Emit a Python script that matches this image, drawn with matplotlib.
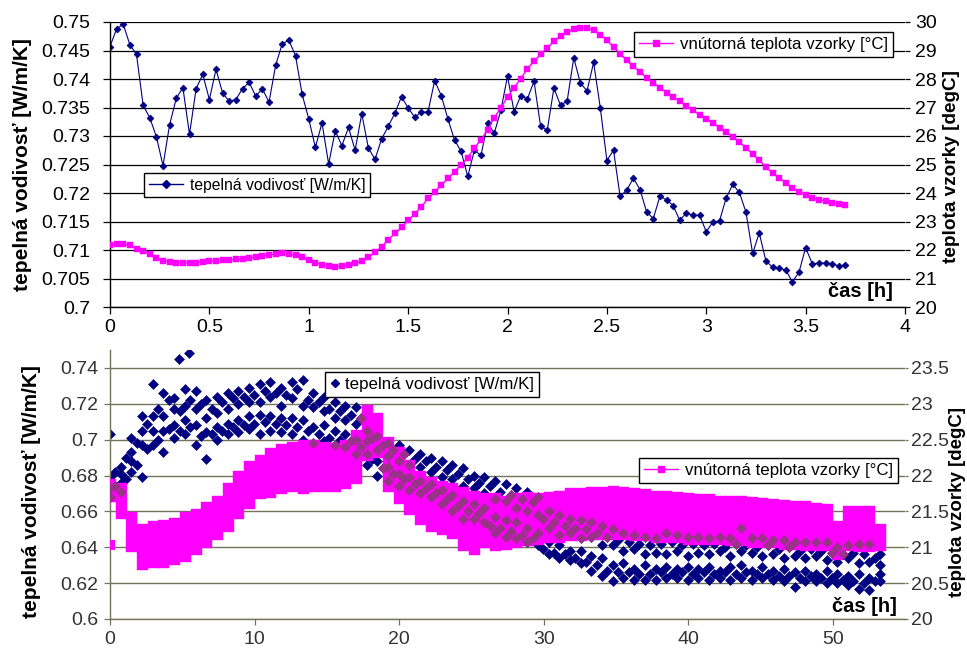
import matplotlib
matplotlib.use('Agg')
import matplotlib.pyplot as plt
import numpy as np
from matplotlib.lines import Line2D

plt.rcParams['font.family'] = ['Liberation Sans', 'DejaVu Sans']

# ---------------- data: top chart (time in minutes) ----------------
t_top_min = [0, 2, 4, 6, 8, 10, 12, 14, 16, 18, 20, 22, 24, 26, 28, 30, 32, 34, 36, 38,
             40, 42, 44, 46, 48, 50, 52, 54, 56, 58, 60, 62, 64, 66, 68, 70, 72, 74, 76, 78,
             80, 82, 84, 86, 88, 90, 92, 94, 96, 98, 100, 102, 104, 106, 108, 110, 112, 114, 116, 118,
             120, 122, 124, 126, 128, 130, 132, 134, 136, 138, 140, 142, 144, 146, 148, 150, 152, 154, 156, 158,
             160, 162, 164, 166, 168, 170, 172, 174, 176, 178, 180, 182, 184, 186, 188, 190, 192, 194, 196, 198,
             200, 202, 204, 206, 208, 210, 212, 214, 216, 218, 220, 222]

k_top = [0.7457, 0.7488, 0.7496, 0.7460, 0.7443, 0.7354, 0.7332, 0.7299, 0.7248, 0.7320,
         0.7366, 0.7385, 0.7303, 0.7383, 0.7408, 0.7364, 0.7417, 0.7375, 0.7361, 0.7364,
         0.7383, 0.7394, 0.7370, 0.7383, 0.7359, 0.7424, 0.7462, 0.7468, 0.7441, 0.7373,
         0.7330, 0.7280, 0.7323, 0.7251, 0.7309, 0.7283, 0.7315, 0.7275, 0.7339, 0.7279,
         0.7259, 0.7295, 0.7317, 0.7340, 0.7369, 0.7349, 0.7333, 0.7342, 0.7342, 0.7397,
         0.7371, 0.7330, 0.7293, 0.7273, 0.7229, 0.7275, 0.7266, 0.7323, 0.7305, 0.7345,
         0.7405, 0.7342, 0.7371, 0.7365, 0.7396, 0.7317, 0.7310, 0.7384, 0.7354, 0.7361,
         0.7437, 0.7393, 0.7379, 0.7429, 0.7350, 0.7257, 0.7275, 0.7194, 0.7205, 0.7226,
         0.7206, 0.7167, 0.7155, 0.7194, 0.7188, 0.7178, 0.7152, 0.7165, 0.7161, 0.7161,
         0.7132, 0.7149, 0.7151, 0.7191, 0.7215, 0.7201, 0.7166, 0.7094, 0.7130, 0.7081,
         0.7070, 0.7068, 0.7065, 0.7044, 0.7061, 0.7104, 0.7076, 0.7077, 0.7077, 0.7076,
         0.7072, 0.7073]

temp_top = [22.17, 22.21, 22.21, 22.16, 22.05, 21.97, 21.85, 21.73, 21.63, 21.58,
            21.55, 21.55, 21.55, 21.56, 21.58, 21.61, 21.62, 21.64, 21.65, 21.67,
            21.69, 21.71, 21.76, 21.80, 21.83, 21.85, 21.88, 21.85, 21.81, 21.74,
            21.64, 21.56, 21.49, 21.44, 21.42, 21.43, 21.47, 21.53, 21.61, 21.74,
            21.92, 22.12, 22.36, 22.58, 22.79, 23.04, 23.27, 23.52, 23.81, 24.04,
            24.28, 24.51, 24.75, 24.99, 25.24, 25.58, 25.87, 26.22, 26.64, 26.99,
            27.37, 27.70, 28.01, 28.36, 28.62, 28.87, 29.09, 29.32, 29.51, 29.65,
            29.74, 29.79, 29.79, 29.71, 29.56, 29.36, 29.12, 28.89, 28.65, 28.44,
            28.25, 28.05, 27.86, 27.70, 27.52, 27.37, 27.22, 27.05, 26.90, 26.75,
            26.61, 26.46, 26.29, 26.14, 25.96, 25.79, 25.59, 25.36, 25.15, 24.91,
            24.70, 24.53, 24.35, 24.19, 24.05, 23.93, 23.84, 23.77, 23.71, 23.66,
            23.61, 23.58]

# ---------------- data: bottom chart (time in hours) ----------------
t_cols = [0.0, 0.74, 1.48, 2.22, 2.96, 3.7, 4.44, 5.18, 5.92, 6.66, 7.4, 8.14, 8.88, 9.62,
          10.36, 11.1, 11.84, 12.58, 13.32, 14.06, 14.8, 15.54, 16.28, 17.02, 17.76, 18.5,
          19.24, 19.98, 20.72, 21.46, 22.2, 22.94, 23.68, 24.42, 25.16, 25.9, 26.64, 27.38,
          28.12, 28.86, 29.6, 30.34, 31.08, 31.82, 32.56, 33.3, 34.04, 34.78, 35.52, 36.26,
          37.0, 37.74, 38.48, 39.22, 39.96, 40.7, 41.44, 42.18, 42.92, 43.66, 44.4, 45.14,
          45.88, 46.62, 47.36, 48.1, 48.84, 49.58, 50.32, 51.06, 51.8, 52.54, 53.28]

t_half = [0.37, 1.11, 1.85, 2.59, 3.33, 4.07, 4.81, 5.55, 6.29, 7.03, 7.77, 8.51, 9.25, 9.99,
          10.73, 11.47, 12.21, 12.95, 13.69, 14.43, 15.17, 15.91, 16.65, 17.39, 18.13, 18.87,
          19.61, 20.35, 21.09, 21.83, 22.57, 23.31, 24.05, 24.79, 25.53, 26.27, 27.01, 27.75,
          28.49, 29.23, 29.97, 30.71, 31.45, 32.19, 32.93, 33.67, 34.41, 35.15, 35.89, 36.63,
          37.37, 38.11, 38.85, 39.59, 40.33, 41.07, 41.81, 42.55, 43.29, 44.03, 44.77, 45.51,
          46.25, 46.99, 47.73, 48.47, 49.21, 49.95, 50.69, 51.43, 52.17, 52.91]

pink_hi = [21.88, 21.82, 21.42, 21.26, 21.30, 21.31, 21.34, 21.42, 21.47, 21.56, 21.64, 21.82,
           22.00, 22.13, 22.22, 22.32, 22.37, 22.40, 22.42, 22.43, 22.40, 22.38, 22.42, 22.56,
           22.92, 22.80, 22.47, 22.33, 22.14, 22.00, 21.91, 21.86, 21.82, 21.77, 21.72, 21.68,
           21.68, 21.65, 21.68, 21.70, 21.68, 21.70, 21.72, 21.75, 21.75, 21.77, 21.77, 21.78,
           21.77, 21.75, 21.74, 21.72, 21.71, 21.70, 21.69, 21.67, 21.67, 21.65, 21.65, 21.64,
           21.63, 21.62, 21.60, 21.59, 21.58, 21.57, 21.55, 21.53, 21.30, 21.51, 21.51, 21.51,
           21.26]
pink_lo = [21.72, 21.48, 21.02, 20.76, 20.80, 20.80, 20.83, 20.88, 20.97, 21.07, 21.18, 21.30,
           21.48, 21.62, 21.75, 21.77, 21.83, 21.86, 21.82, 21.85, 21.86, 21.85, 21.90, 21.96,
           22.28, 22.33, 21.86, 21.68, 21.54, 21.40, 21.30, 21.26, 21.20, 21.03, 20.98, 21.07,
           21.03, 21.04, 21.07, 21.10, 21.12, 21.14, 21.14, 21.17, 21.17, 21.18, 21.19, 21.19,
           21.19, 21.17, 21.17, 21.14, 21.14, 21.14, 21.12, 21.12, 21.12, 21.12, 21.10, 21.10,
           21.08, 21.07, 21.07, 21.05, 21.05, 21.03, 21.03, 21.03, 20.90, 21.03, 21.02, 21.02,
           21.03]
pink_extra_t = [0.0]
pink_extra_v = [21.03]

k1 = [0.703, 0.685, 0.701, 0.713, 0.731, 0.726, 0.723, 0.728, 0.727, 0.722, 0.724, 0.726,
      0.727, 0.729, 0.731, 0.732, 0.729, 0.732, 0.733, 0.726, 0.724, 0.721, 0.719, 0.718,
      0.705, 0.702, 0.698, 0.697, 0.694, 0.692, 0.690, 0.688, 0.686, 0.684, 0.680, 0.679,
      0.677, 0.675, 0.673, 0.671, 0.668, 0.660, 0.658, 0.656, 0.655, 0.654, 0.652, 0.650,
      0.648, 0.647, 0.646, 0.645, 0.648, 0.647, 0.646, 0.646, 0.645, 0.646, 0.645, 0.651,
      0.645, 0.645, 0.644, 0.644, 0.643, 0.643, 0.643, 0.643, 0.640, 0.641, 0.642, 0.642,
      0.636]
k2 = [0.679, 0.681, 0.693, 0.705, 0.713, 0.713, 0.717, 0.719, 0.717, 0.712, 0.715, 0.717,
      0.720, 0.721, 0.721, 0.724, 0.719, 0.723, 0.719, 0.718, 0.716, 0.712, 0.711, 0.709,
      0.699, 0.694, 0.691, 0.688, 0.686, 0.685, 0.682, 0.679, 0.678, 0.674, 0.673, 0.670,
      0.667, 0.666, 0.662, 0.660, 0.658, 0.651, 0.647, 0.648, 0.645, 0.646, 0.641, 0.641,
      0.638, 0.639, 0.636, 0.637, 0.636, 0.638, 0.635, 0.637, 0.636, 0.638, 0.635, 0.638,
      0.637, 0.635, 0.636, 0.634, 0.635, 0.634, 0.635, 0.633, 0.632, 0.634, 0.631, 0.632,
      0.630]
k3 = [0.673, 0.676, 0.688, 0.697, 0.705, 0.705, 0.708, 0.711, 0.708, 0.704, 0.707, 0.709,
      0.711, 0.713, 0.714, 0.713, 0.712, 0.712, 0.711, 0.707, 0.708, 0.705, 0.703, 0.700,
      0.692, 0.688, 0.685, 0.681, 0.679, 0.677, 0.675, 0.672, 0.669, 0.666, 0.664, 0.662,
      0.657, 0.655, 0.654, 0.651, 0.648, 0.643, 0.641, 0.638, 0.638, 0.635, 0.634, 0.630,
      0.631, 0.628, 0.630, 0.628, 0.629, 0.628, 0.629, 0.628, 0.629, 0.627, 0.629, 0.630,
      0.627, 0.629, 0.627, 0.628, 0.626, 0.627, 0.625, 0.627, 0.625, 0.624, 0.625, 0.623,
      0.625]
k4 = [0.668, 0.671, 0.682, 0.679, 0.697, 0.693, 0.701, 0.703, 0.697, 0.689, 0.700, 0.703,
      0.704, 0.706, 0.703, 0.705, 0.704, 0.703, 0.700, 0.698, 0.699, 0.697, 0.696, 0.692,
      0.686, 0.680, 0.677, 0.674, 0.672, 0.670, 0.668, 0.664, 0.660, 0.656, 0.656, 0.654,
      0.648, 0.646, 0.645, 0.643, 0.641, 0.636, 0.634, 0.633, 0.631, 0.627, 0.624, 0.621,
      0.623, 0.622, 0.622, 0.622, 0.623, 0.623, 0.622, 0.623, 0.622, 0.623, 0.622, 0.623,
      0.622, 0.623, 0.622, 0.621, 0.618, 0.621, 0.621, 0.620, 0.620, 0.619, 0.617, 0.616,
      0.621]
k5 = [0.682, 0.690, 0.698, 0.709, 0.717, 0.722, 0.716, 0.722, 0.720, 0.717, 0.721, 0.723,
      0.724, 0.725, 0.727, 0.726, 0.725, 0.728, 0.722, 0.721, 0.717, 0.716, 0.714, 0.712,
      0.701, 0.697, 0.694, 0.692, 0.689, 0.688, 0.685, 0.683, 0.681, 0.678, 0.676, 0.674,
      0.671, 0.669, 0.667, 0.665, 0.656, 0.654, 0.652, 0.651, 0.650, 0.648, 0.646, 0.644,
      0.643, 0.642, 0.641, 0.642, 0.643, 0.641, 0.642, 0.641, 0.642, 0.640, 0.642, 0.641,
      0.640, 0.641, 0.639, 0.640, 0.638, 0.639, 0.638, 0.637, 0.636, 0.637, 0.636, 0.634]
k6 = [0.674, 0.678, 0.686, 0.695, 0.700, 0.706, 0.705, 0.707, 0.702, 0.703, 0.705, 0.707,
      0.708, 0.709, 0.710, 0.709, 0.708, 0.707, 0.705, 0.703, 0.701, 0.700, 0.699, 0.696,
      0.689, 0.684, 0.681, 0.678, 0.675, 0.673, 0.670, 0.667, 0.663, 0.660, 0.659, 0.652,
      0.651, 0.649, 0.647, 0.645, 0.639, 0.637, 0.636, 0.634, 0.632, 0.630, 0.627, 0.626,
      0.626, 0.625, 0.625, 0.626, 0.625, 0.626, 0.625, 0.626, 0.625, 0.626, 0.625, 0.626,
      0.625, 0.625, 0.624, 0.624, 0.623, 0.624, 0.623, 0.623, 0.622, 0.621, 0.620, 0.621]
k_out_t = [4.77, 5.48]
k_out = [0.745, 0.7486]

# ---------------- styling ----------------
NAVY = '#000080'
MAG = '#FF00FF'
PURP = '#993388'
OLIVE = '#73735A'
W, H = 967, 649
fig = plt.figure(figsize=(W / 100, H / 100), dpi=100)


def fx(px):
    return px / W


def fy(py):
    return 1 - py / H


def fmt(v):
    return f'{round(v, 4):g}'


# ---------------- top chart ----------------
ax1 = fig.add_axes([fx(110), fy(307), fx(905) - fx(110), fy(22) - fy(307)])
ax1b = ax1.twinx()
t_top = np.array(t_top_min) / 60.0

ax1.plot(t_top, k_top, color=NAVY, lw=0.8, marker='D', ms=3.4, mec=NAVY, mfc=NAVY, mew=0.6)
ax1b.plot(t_top, temp_top, color=MAG, lw=1.0, marker='s', ms=5.0, mec=MAG, mfc=MAG, mew=0.3)

ax1.set_xlim(0, 4)
ax1.set_ylim(0.7, 0.75)
ax1b.set_ylim(20, 30)
xt = np.arange(0, 4.01, 0.5)
ax1.set_xticks(xt)
ax1.set_xticklabels([fmt(v) for v in xt])
yt = np.arange(0.7, 0.7501, 0.005)
ax1.set_yticks(yt)
ax1.set_yticklabels([fmt(v) for v in yt])
yt2 = np.arange(20, 30.01, 1)
ax1b.set_yticks(yt2)
ax1b.set_yticklabels([fmt(v) for v in yt2])

ax1.set_axisbelow(True)
ax1.yaxis.grid(True, color='black', lw=0.9)
for sp in ['top', 'right']:
    ax1.spines[sp].set_visible(False)
for sp in ['top', 'right', 'left', 'bottom']:
    ax1b.spines[sp].set_visible(False)
for sp in ['left', 'bottom']:
    ax1.spines[sp].set_color('black')
    ax1.spines[sp].set_linewidth(1.0)
ax1.tick_params(axis='y', direction='out', length=5, width=0.9, pad=9, labelsize=14, colors='black')
ax1.tick_params(axis='x', direction='out', length=5, width=0.9, pad=3.5, labelsize=14, colors='black')
ax1b.tick_params(axis='y', direction='out', length=3.6, width=0.9, pad=3.5, labelsize=14, colors='black')

# ---------------- bottom chart ----------------
ax2 = fig.add_axes([fx(110), fy(619), fx(905) - fx(110), fy(350) - fy(619)])
ax2b = ax2.twinx()
ax2.set_xlim(0, 55)
ax2.set_ylim(0.6, 0.75)
ax2b.set_ylim(20, 23.75)

lo_c = np.array(pink_lo)
hi_c = np.array(pink_hi)
lo_h = np.minimum(lo_c[:-1], lo_c[1:])
hi_h = np.maximum(hi_c[:-1], hi_c[1:])

t_all = np.concatenate([t_cols] * 4 + [t_half] * 2)
k_all = np.concatenate([k1, k2, k3, k4, k5, k6])
lo_all = np.concatenate([lo_c] * 4 + [lo_h] * 2)
hi_all = np.concatenate([hi_c] * 4 + [hi_h] * 2)

DMS = 5.2
ax2.plot(t_all, k_all, ls='none', marker='D', ms=DMS, mfc=NAVY, mec=NAVY, mew=0.4)
ax2.plot(k_out_t, k_out, ls='none', marker='D', ms=DMS, mfc=NAVY, mec=NAVY, mew=0.4)

ax2b.vlines(t_cols, pink_lo, pink_hi, colors=MAG, lw=8.2, capstyle='projecting')
ax2b.plot(pink_extra_t, pink_extra_v, ls='none', marker='s', ms=7.5, mfc=MAG, mec=MAG, mew=0)

# blue diamonds lying over the pink band look purple
disp = ax2.transData.transform(np.column_stack([t_all, k_all]))
tT = ax2b.transData.inverted().transform(disp)
inside = (tT[:, 1] >= lo_all - 0.05) & (tT[:, 1] <= hi_all + 0.05)
ax2b.plot(tT[inside, 0], tT[inside, 1], ls='none', marker='D', ms=DMS, mfc=PURP, mec=PURP, mew=0.4)

xt = np.arange(0, 50.1, 10)
ax2.set_xticks(xt)
ax2.set_xticklabels([fmt(v) for v in xt])
yt = np.arange(0.6, 0.7401, 0.02)
ax2.set_yticks(yt)
ax2.set_yticklabels([fmt(v) for v in yt])
yt2 = np.arange(20, 23.51, 0.5)
ax2b.set_yticks(yt2)
ax2b.set_yticklabels([fmt(v) for v in yt2])

ax2.set_axisbelow(True)
ax2.yaxis.grid(True, color=OLIVE, lw=1.0)
for sp in ['top', 'right']:
    ax2.spines[sp].set_visible(False)
for sp in ['top', 'right', 'left', 'bottom']:
    ax2b.spines[sp].set_visible(False)
for sp in ['left', 'bottom']:
    ax2.spines[sp].set_color(OLIVE)
    ax2.spines[sp].set_linewidth(1.0)
ax2.tick_params(axis='y', direction='out', length=4.5, width=0.9, pad=4, labelsize=14,
                color=OLIVE, labelcolor='#333333')
ax2.tick_params(axis='x', direction='out', length=4.5, width=0.9, pad=4, labelsize=14,
                color=OLIVE, labelcolor='#333333')
ax2b.tick_params(axis='y', direction='out', length=2.5, width=0.9, pad=2, labelsize=14,
                 color=OLIVE, labelcolor='#333333')

# ---------------- texts ----------------
fig.text(fx(22.5), fy(164.5), 'tepelná vodivosť [W/m/K]', rotation=90, ha='center', va='center',
         fontsize=15, fontweight='bold')
fig.text(fx(952), fy(166.7), 'teplota vzorky [degC]', rotation=90, ha='center', va='center',
         fontsize=13.7, fontweight='bold')
fig.text(fx(32), fy(491.5), 'tepelná vodivosť [W/m/K]', rotation=90, ha='center', va='center',
         fontsize=15, fontweight='bold')
fig.text(fx(958), fy(502), 'teplota vzorky [degC]', rotation=90, ha='center', va='center',
         fontsize=13.5, fontweight='bold')
fig.text(fx(893), fy(292), 'čas [h]', ha='right', va='center', fontsize=14.5, fontweight='bold')
fig.text(fx(897), fy(606), 'čas [h]', ha='right', va='center', fontsize=14.5, fontweight='bold')

# ---------------- legends ----------------
def add_legend(handle, label, x, y, size, hl, htp):
    leg = fig.legend([handle], [label], loc='upper left', bbox_to_anchor=(fx(x), fy(y)),
                     bbox_transform=fig.transFigure, fontsize=size, frameon=True, fancybox=False,
                     edgecolor='black', framealpha=1.0, borderpad=0.3, borderaxespad=0,
                     handlelength=hl, handletextpad=htp)
    leg.get_frame().set_linewidth(1.0)
    return leg


h_blue_line = Line2D([], [], color=NAVY, lw=1.0, marker='D', ms=4, mfc=NAVY, mec=NAVY)
h_pink_line = Line2D([], [], color=MAG, lw=1.0, marker='s', ms=5, mfc=MAG, mec=MAG)
h_blue_pt = Line2D([], [], color=NAVY, ls='none', marker='D', ms=4, mfc=NAVY, mec=NAVY)

add_legend(h_blue_line, 'tepelná vodivosť [W/m/K]', 144, 173, 11.3, 2.2, 0.4)
add_legend(h_pink_line, 'vnútorná teplota vzorky [°C]', 634, 32, 12.2, 2.0, 0.4)
add_legend(h_blue_pt, 'tepelná vodivosť [W/m/K]', 325, 372, 12.2, 0.6, 0.3)
add_legend(h_pink_line, 'vnútorná teplota vzorky [°C]', 639, 458, 12.2, 2.0, 0.4)

fig.savefig('out.png', dpi=100)
